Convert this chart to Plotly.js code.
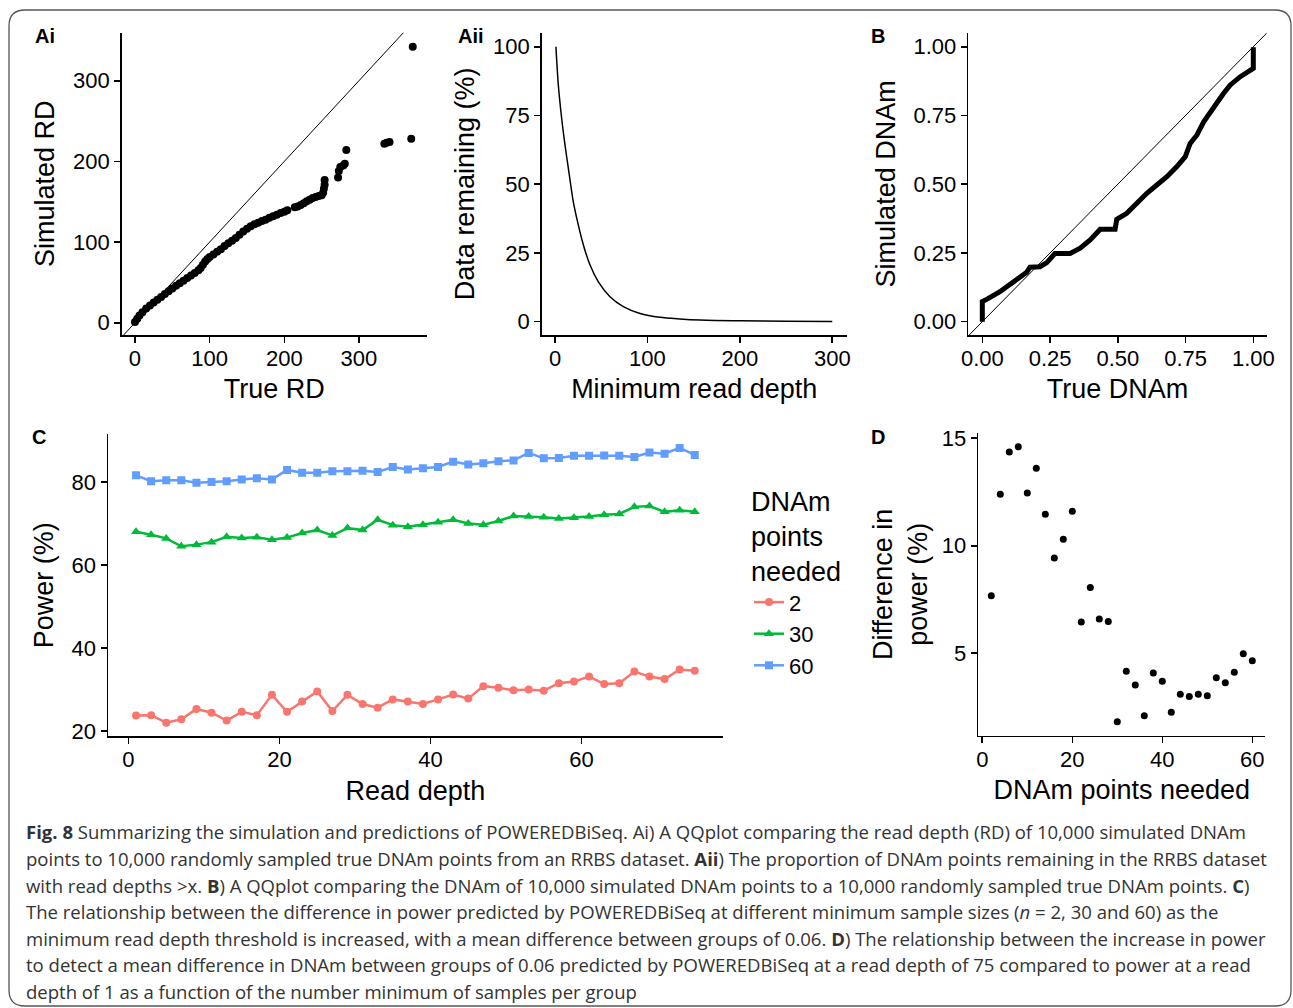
<!DOCTYPE html>
<html>
<head>
<meta charset="utf-8">
<script src="https://cdn.plot.ly/plotly-3.0.1.min.js"></script>
<style>
html,body{margin:0;padding:0;background:#fff;}
#chart{width:1293px;height:1008px;}
</style>
</head>
<body>
<div id="chart"></div>
<script>
// ---------- DATA ----------
// Panel Ai: QQ plot, true vs simulated read depth (quantiles)
const aiTrue = [0,3,6,10,15,20,25,30,35,40,45,50,55,60,65,70,75,80,85,88,91,94,97,100,105,110,115,120,125,130,135,140,145,150,155,160,165,170,175,180,185,190,195,200,204,214,218,222,226,230,234,238,242,246,250,252,253,254,254,272,273,275,279,281,283,334,337,341,370,372];
const aiSim  = [1,5,9,13,17.5,21.5,25,28.5,32,35.5,39,42.5,46,49,52,55.5,58.5,61.5,65,68,72,76,79,81.5,84.5,88,91,95,98.5,101.5,105,109,113,116.5,119.5,122,124,126,127.5,130,132,134,136,137.5,139.5,143,144,146,148,150.5,152.5,154.5,156,157,158,161,166,171,177,180,188,193,195,197,214,222,223,224,228,342];
const diagLine = [-50, 1000];
const diagLineB = [-1, 2];

// Panel Aii: proportion of data remaining vs minimum read depth
const aiiDepth  = [1,3.6,7.2,10.8,15.5,19.8,25.2,30.7,37.9,46.9,59.5,73.9,92,113.6,135,157,200,250,300];
const aiiRemain = [100,86,74,64.3,53.3,43.6,35.2,27.9,20.6,14.5,9.1,5.5,3.0,1.6,1.0,0.6,0.3,0.15,0.1];

// Panel B: QQ plot, true vs simulated DNAm
const bTrue = [0,0,0.016,0.041,0.065,0.09,0.115,0.139,0.164,0.176,0.213,0.238,0.268,0.324,0.361,0.398,0.435,0.49,0.496,0.533,0.57,0.607,0.644,0.681,0.718,0.749,0.767,0.792,0.817,0.841,0.866,0.89,0.915,0.952,0.995,1.0,1.0];
const bSim  = [0,0.073,0.081,0.093,0.109,0.127,0.145,0.164,0.18,0.198,0.2,0.215,0.248,0.248,0.267,0.297,0.336,0.336,0.372,0.394,0.433,0.467,0.497,0.527,0.564,0.6,0.648,0.679,0.727,0.764,0.796,0.83,0.861,0.891,0.915,0.921,0.998];

// Panel C: power vs read depth for three sample sizes
const readDepth = [1,3,5,7,9,11,13,15,17,19,21,23,25,27,29,31,33,35,37,39,41,43,45,47,49,51,53,55,57,59,61,63,65,67,69,71,73,75];
const power2  = [23.7,23.8,22.0,22.8,25.3,24.4,22.5,24.6,23.8,28.7,24.6,27.1,29.5,24.8,28.7,26.5,25.6,27.6,27.1,26.5,27.6,28.8,27.8,30.8,30.4,29.8,30.0,29.7,31.5,31.9,33.1,31.3,31.5,34.3,33.1,32.5,34.8,34.5];
const power30 = [68.0,67.3,66.4,64.5,64.9,65.5,66.8,66.5,66.7,66.1,66.6,67.7,68.4,67.1,68.9,68.4,70.9,69.6,69.2,69.7,70.3,70.9,70.0,69.7,70.6,71.8,71.7,71.5,71.2,71.4,71.7,72.1,72.3,74.0,74.2,72.8,73.2,72.8];
const power60 = [81.6,80.2,80.4,80.4,79.8,80.0,80.2,80.6,80.9,80.6,82.9,82.2,82.2,82.6,82.6,82.7,82.4,83.6,83.0,83.3,83.6,84.9,84.2,84.5,85.0,85.2,87.0,85.7,85.8,86.3,86.3,86.4,86.3,86.0,87.1,86.8,88.2,86.5];
const seriesNames = ['2','30','60'];

// Panel D: difference in power vs DNAm points needed
const dnamPoints = [2,4,6,8,10,12,14,16,18,20,22,24,26,28,30,32,34,36,38,40,42,44,46,48,50,52,54,56,58,60];
const powerDiff  = [7.67,12.4,14.36,14.6,12.45,13.6,11.47,9.43,10.3,11.6,6.45,8.06,6.59,6.48,1.81,4.16,3.52,2.09,4.08,3.7,2.26,3.09,2.99,3.09,3.02,3.86,3.63,4.12,4.98,4.65];

const captionLines = [
  '<b>Fig. 8</b> Summarizing the simulation and predictions of POWEREDBiSeq. Ai) A QQplot comparing the read depth (RD) of 10,000 simulated DNAm',
  'points to 10,000 randomly sampled true DNAm points from an RRBS dataset. <b>Aii</b>) The proportion of DNAm points remaining in the RRBS dataset',
  'with read depths >x. <b>B</b>) A QQplot comparing the DNAm of 10,000 simulated DNAm points to a 10,000 randomly sampled true DNAm points. <b>C</b>)',
  'The relationship between the difference in power predicted by POWEREDBiSeq at different minimum sample sizes (<i>n</i> = 2, 30 and 60) as the',
  'minimum read depth threshold is increased, with a mean difference between groups of 0.06. <b>D</b>) The relationship between the increase in power',
  'to detect a mean difference in DNAm between groups of 0.06 predicted by POWEREDBiSeq at a read depth of 75 compared to power at a read',
  'depth of 1 as a function of the number minimum of samples per group'
];

// ---------- LAYOUT HELPERS ----------
const W = 1293, H = 1008;
const px = v => v / W;
const py = v => 1 - v / H;
const FONT = 'Liberation Sans, Arial, Helvetica, sans-serif';

function axis(domainPx, range, tickvals, title, standoff, extra) {
  return Object.assign({
    domain: domainPx,
    range: range,
    tickvals: tickvals,
    showline: true, linecolor: '#000', linewidth: 1.6,
    ticks: 'outside', ticklen: 6, tickwidth: 1.6, tickcolor: '#000',
    showgrid: false, zeroline: false,
    tickfont: {family: FONT, size: 22, color: '#000'},
    title: {text: title, font: {family: FONT, size: 27, color: '#000'}, standoff: standoff},
    fixedrange: true
  }, extra || {});
}
function xaxis(domainPx, range, tickvals, title, anchor, extra) {
  return axis(domainPx, range, tickvals, title, 9, Object.assign({anchor: anchor, ticklabelstandoff: -3}, extra || {}));
}

const rowTop = [py(335), py(32.7)];
const rowBot = [py(736.4), py(434.2)];

const layout = {
  width: W, height: H,
  margin: {l: 0, r: 0, t: 0, b: 0},
  paper_bgcolor: '#fff', plot_bgcolor: '#fff',
  font: {family: FONT, color: '#000'},
  showlegend: true,
  legend: {
    x: px(749), y: py(476), xanchor: 'left', yanchor: 'top',
    bgcolor: 'rgba(0,0,0,0)',
    font: {family: FONT, size: 22, color: '#000'},
    title: {text: 'DNAm<br>points<br>needed', side: 'top', font: {family: FONT, size: 27, color: '#000'}},
    traceorder: 'normal', itemwidth: 30
  },
  // Ai
  xaxis:  xaxis([px(121.7), px(426.7)], [-17.8, 390.7], [0,100,200,300], 'True RD', 'y'),
  yaxis:  axis(rowTop, [-15.2, 359.5], [0,100,200,300], 'Simulated RD', 10, {anchor: 'x'}),
  // Aii
  xaxis2: xaxis([px(541.7), px(846.7)], [-14.4, 315.6], [0,100,200,300], 'Minimum read depth', 'y2'),
  yaxis2: axis(rowTop, [-4.84, 105.1], [0,25,50,75,100], 'Data remaining (%)', 10, {anchor: 'x2'}),
  // B
  xaxis3: xaxis([px(968.3), px(1266.7)], [-0.0517, 1.0494], [0,0.25,0.5,0.75,1], 'True DNAm', 'y3', {tickformat: '.2f'}),
  yaxis3: axis(rowTop, [-0.0484, 1.0509], [0,0.25,0.5,0.75,1], 'Simulated DNAm', 10, {anchor: 'x3', tickformat: '.2f'}),
  // C
  xaxis4: xaxis([px(108.1), px(722.7)], [-2.7, 78.7], [0,20,40,60], 'Read depth', 'y4'),
  yaxis4: axis(rowBot, [18.69, 91.51], [20,40,60,80], 'Power (%)', 10, {anchor: 'x4'}),
  // D
  xaxis5: xaxis([px(978.25), px(1265.35)], [-0.9, 62.9], [0,20,40,60], 'DNAm points needed', 'y5'),
  yaxis5: axis([py(735.6), py(433.1)], [1.17, 15.24], [5,10,15], 'Difference in<br>power (%)', 6, {anchor: 'x5'}),
  annotations: [],
  shapes: []
};

// Panel letters
const panelLabels = [
  {t: 'Ai', x: 33, y: 36}, {t: 'Aii', x: 456, y: 36}, {t: 'B', x: 869, y: 36},
  {t: 'C', x: 30, y: 437}, {t: 'D', x: 869, y: 437}
];
panelLabels.forEach(p => layout.annotations.push({
  xref: 'paper', yref: 'paper', x: px(p.x), y: py(p.y), xanchor: 'left', yanchor: 'middle',
  text: '<b>' + p.t + '</b>', showarrow: false, font: {family: FONT, size: 20, color: '#000'}
}));

// Caption
const capY = [831, 858, 885, 911, 938, 964, 991];
captionLines.forEach((t, i) => layout.annotations.push({
  xref: 'paper', yref: 'paper', x: px(24), y: py(capY[i]), xanchor: 'left', yanchor: 'middle',
  text: t, showarrow: false, align: 'left',
  font: {family: 'Open Sans, Noto Sans, sans-serif', size: 18.55, color: '#333'}
}));

// Rounded outer border
(function(){
  const L = 9, T = 10, R = 1291, B = 1006, r = 16;
  const P = (x, y) => px(x).toFixed(5) + ',' + py(y).toFixed(5);
  const path = 'M ' + P(L, T + r) + ' Q ' + P(L, T) + ' ' + P(L + r, T) +
    ' L ' + P(R - r, T) + ' Q ' + P(R, T) + ' ' + P(R, T + r) +
    ' L ' + P(R, B - r) + ' Q ' + P(R, B) + ' ' + P(R - r, B) +
    ' L ' + P(L + r, B) + ' Q ' + P(L, B) + ' ' + P(L, B - r) + ' Z';
  layout.shapes.push({type: 'path', xref: 'paper', yref: 'paper', path: path,
    line: {color: '#555', width: 1.3}, fillcolor: 'rgba(0,0,0,0)', layer: 'below'});
})();

// ---------- TRACES ----------
const traces = [
  {x: diagLine, y: diagLine, xaxis: 'x', yaxis: 'y', mode: 'lines', line: {color: '#000', width: 1}, showlegend: false, hoverinfo: 'skip'},
  {x: aiTrue, y: aiSim, xaxis: 'x', yaxis: 'y', mode: 'markers', marker: {color: '#000', size: 8}, showlegend: false},
  {x: aiiDepth, y: aiiRemain, xaxis: 'x2', yaxis: 'y2', mode: 'lines', line: {color: '#000', width: 1.5, shape: 'spline', smoothing: 0.8}, showlegend: false},
  {x: diagLineB, y: diagLineB, xaxis: 'x3', yaxis: 'y3', mode: 'lines', line: {color: '#000', width: 1}, showlegend: false, hoverinfo: 'skip'},
  {x: bTrue, y: bSim, xaxis: 'x3', yaxis: 'y3', mode: 'lines', line: {color: '#000', width: 5}, showlegend: false},
  {x: readDepth, y: power2, xaxis: 'x4', yaxis: 'y4', mode: 'lines+markers', name: seriesNames[0],
   line: {color: '#F8766D', width: 2.5}, marker: {color: '#F8766D', size: 8, symbol: 'circle'}},
  {x: readDepth, y: power30, xaxis: 'x4', yaxis: 'y4', mode: 'lines+markers', name: seriesNames[1],
   line: {color: '#00BA38', width: 2.5}, marker: {color: '#00BA38', size: 9, symbol: 'triangle-up'}},
  {x: readDepth, y: power60, xaxis: 'x4', yaxis: 'y4', mode: 'lines+markers', name: seriesNames[2],
   line: {color: '#619CFF', width: 2.5}, marker: {color: '#619CFF', size: 8, symbol: 'square'}},
  {x: dnamPoints, y: powerDiff, xaxis: 'x5', yaxis: 'y5', mode: 'markers', marker: {color: '#000', size: 7}, showlegend: false}
];

Plotly.newPlot('chart', traces, layout, {displayModeBar: false, staticPlot: true});
</script>
</body>
</html>
